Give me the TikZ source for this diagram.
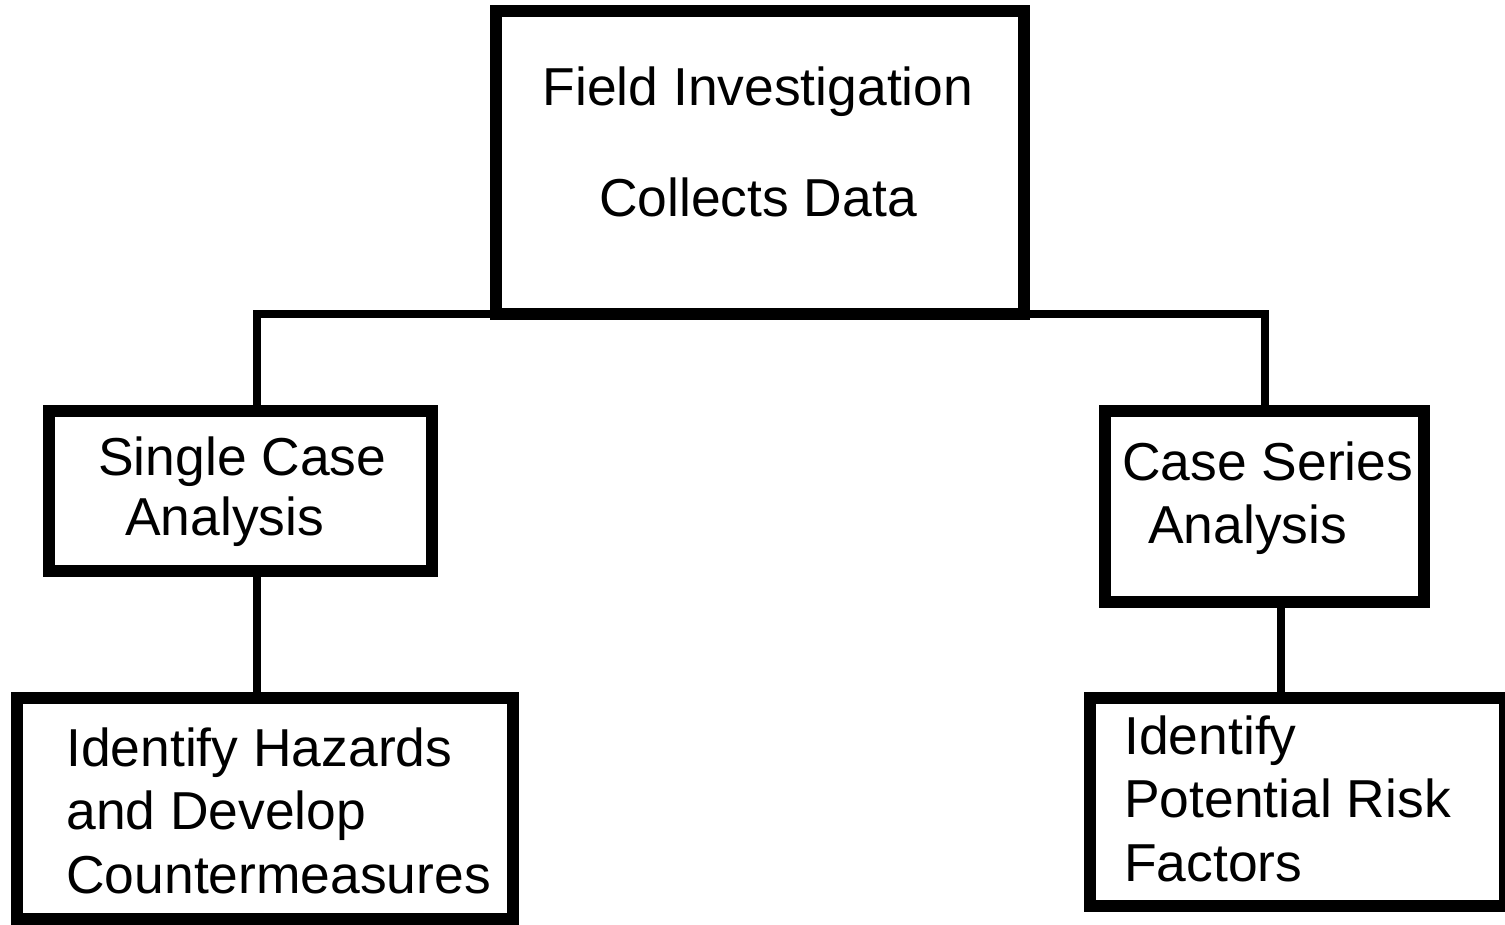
\documentclass[tikz,border=0pt]{standalone}
\usepackage{fontspec}
\setmainfont{Liberation Sans}
\begin{document}
\begin{tikzpicture}[x=0.02cm,y=-0.02cm,
    box/.style={draw,line width=0.24cm,inner sep=0pt},
    txt/.style={inner sep=0pt,align=left,font=\fontsize{30.4}{36}\selectfont},
    link/.style={line width=0.16cm}]
    \useasboundingbox (0,0) rectangle (1505,925);
    % boxes
    \node[box,minimum width=10.56cm,minimum height=6.07cm] (field) at (760,162.75) {};
    \node[box,minimum width=7.66cm,minimum height=3.2cm] (single) at (240.5,491) {};
    \node[box,minimum width=6.38cm,minimum height=3.82cm] (series) at (1264.5,506.5) {};
    \node[box,minimum width=9.92cm,minimum height=4.42cm] (hazards) at (265,808.5) {};
    \node[box,minimum width=8.3cm,minimum height=4.16cm] (risk) at (1297.5,802) {};
    % texts (anchored on the baseline of the last line)
    \node[txt,align=center,anchor=base] (fieldtxt) at (758,217) {Field Investigation\\[0.96cm]Collects Data};
    \node[txt,anchor=base west] (singletxt) at (98,536) {Single Case\\[-0.05cm]\hspace{0.54cm}Analysis};
    \node[txt,anchor=base west] (seriestxt) at (1122,544) {Case Series\\\hspace{0.52cm}Analysis};
    \node[txt,anchor=base west] (hazardstxt) at (66,893) {Identify Hazards\\and Develop\\Countermeasures};
    \node[txt,anchor=base west] (risktxt) at (1124,881) {Identify\\Potential Risk\\Factors};
    % connectors
    \coordinate (lj) at (257,314.5);
    \coordinate (rj) at (1265,314.5);
    \coordinate (rk) at (1281,0);
    \draw[link] (single.north -| lj) -- (lj) -- (rj) -- (series.north -| rj);
    \draw[link] (single.south -| lj) -- (hazards.north -| lj);
    \draw[link] (series.south -| rk) -- (risk.north -| rk);
\end{tikzpicture}
\end{document}
